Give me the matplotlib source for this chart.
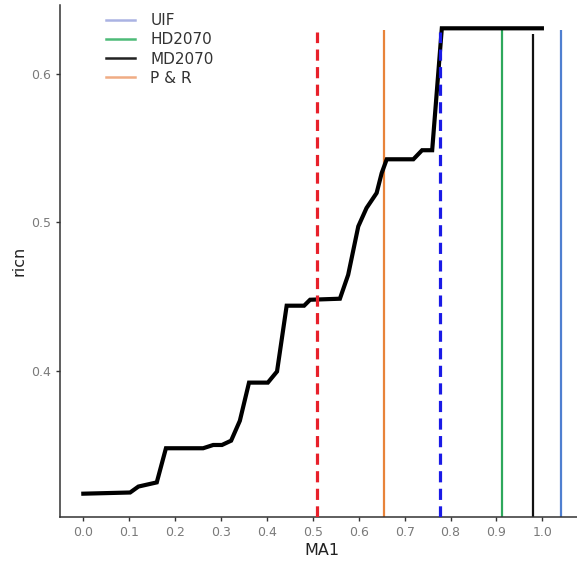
#This script draws the ricn vs MA1 curve with the scenario thresholds

#Needed libraries
import matplotlib
matplotlib.use("Agg")
import matplotlib.pyplot as plt
from matplotlib.lines import Line2D

#Global variables
ma1 = [0.0, 0.102, 0.12, 0.16, 0.18, 0.261, 0.283, 0.302, 0.322, 0.341, 0.361, 0.402,
       0.422, 0.443, 0.481, 0.494, 0.559, 0.577, 0.599, 0.617, 0.639, 0.650, 0.661,
       0.719, 0.738, 0.760, 0.781, 0.999]
ricn = [0.3172, 0.318, 0.322, 0.3248, 0.3478, 0.3478, 0.350, 0.350, 0.3529, 0.3663,
        0.392, 0.392, 0.3995, 0.4438, 0.4438, 0.4478, 0.4485, 0.4646, 0.4972, 0.5096,
        0.5197, 0.5331, 0.5424, 0.5424, 0.5485, 0.5485, 0.6306, 0.6306]

scenarios = ["UIF", "HD2070", "MD2070", "P & R"]
scenario_x = [1.0405, 0.9115, 0.980, 0.656]
scenario_top = [0.6296, 0.6296, 0.627, 0.6296]
scenario_colors = ["#4f7fd0", "#2ea85c", "#111111", "#e8833a"]
legend_colors = ["#aab3e3", "#4dbb78", "#222222", "#f0ac84"]

threshold_x = [0.508, 0.777]
threshold_colors = ["#e8202a", "#1a1ae6"]

y_bottom = 0.3015
y_top = 0.6463

fig = plt.figure(figsize=(5.77, 5.63), dpi=100)
ax = fig.add_axes([60 / 577, 1 - 517 / 563, (584.8 - 60) / 577, (517 - 5) / 563])

#Scenario vertical lines
for x, top, c in zip(scenario_x, scenario_top, scenario_colors):
    ax.vlines(x, y_bottom, top, color=c, lw=1.6, zorder=2)

#Main curve
ax.plot(ma1, ricn, color="black", lw=3.0, solid_joinstyle="miter", zorder=3)

#Dashed thresholds (drawn over the curve)
for x, c in zip(threshold_x, threshold_colors):
    ax.vlines(x, y_bottom, 0.628, color=c, lw=2.3, linestyles=(0, (3.5, 2.0)), zorder=4)

ax.set_xlim(-0.0508, 1.0925)
ax.set_ylim(y_bottom, y_top)
ax.set_xticks([i / 10 for i in range(11)])
ax.set_yticks([0.4, 0.5, 0.6])
ax.set_xticklabels(["%.1f" % (i / 10) for i in range(11)])
ax.set_yticklabels(["0.4", "0.5", "0.6"])

for side in ["top", "right"]:
    ax.spines[side].set_visible(False)
for side in ["left", "bottom"]:
    ax.spines[side].set_color("#333333")
    ax.spines[side].set_linewidth(1.1)
ax.tick_params(colors="#333333", labelcolor="#7a7a7a", labelsize=9, length=3, width=1)

ax.set_xlabel("MA1", fontsize=11.5, color="#222222", labelpad=3)
ax.set_ylabel("ricn", fontsize=11.5, color="#222222", labelpad=3)

#Legend
handles = [Line2D([0], [0], color=c, lw=1.8) for c in legend_colors]
fig.legend(handles, scenarios, loc="upper left", bbox_to_anchor=(106 / 577, 1 - 13 / 563),
           frameon=False, fontsize=11, handlelength=1.9, handletextpad=1.0,
           labelspacing=0.28, borderpad=0, borderaxespad=0, labelcolor="#333333")

fig.savefig("out.png", dpi=100)
